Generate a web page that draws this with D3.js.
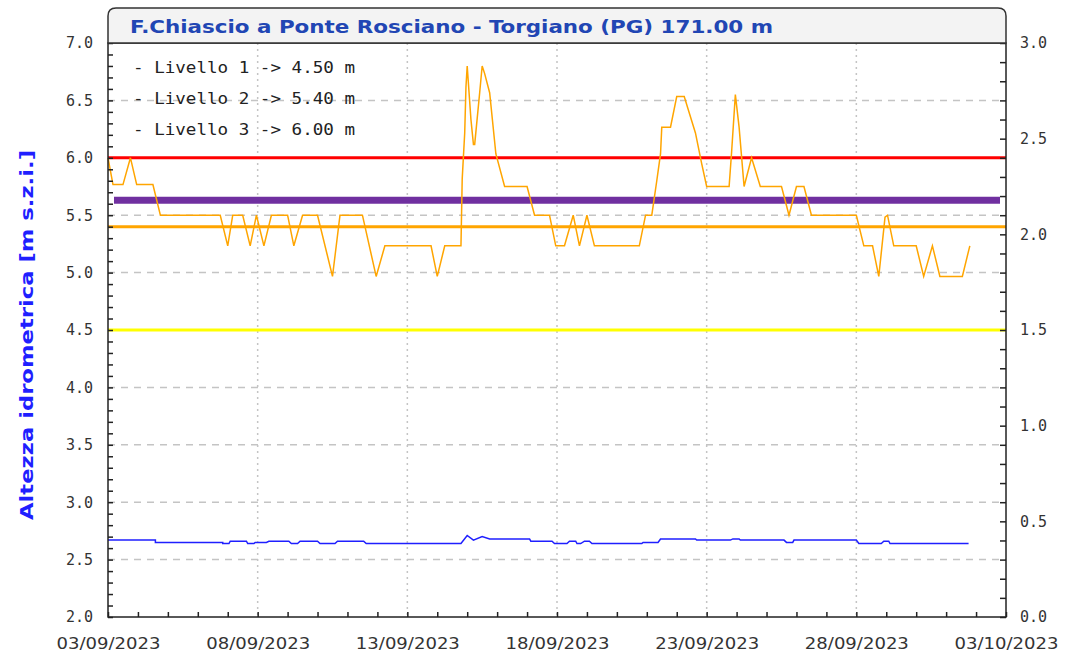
<!DOCTYPE html>
<html>
<head>
<meta charset="utf-8">
<script src="https://cdn.jsdelivr.net/npm/d3@7"></script>
<style>
  body { margin: 0; background: #fff; }
  svg { display: block; }
</style>
</head>
<body>
<svg id="chart" width="1066" height="657"></svg>
<script>
(function() {
  var title = "F.Chiascio a Ponte Rosciano - Torgiano (PG) 171.00 m";
  var yLabel = "Altezza idrometrica [m s.z.i.]";
  var startDate = new Date(2023, 8, 3);
  var endDate = new Date(2023, 9, 3);
  var dateTicks = [new Date(2023, 8, 3), new Date(2023, 8, 8), new Date(2023, 8, 13),
    new Date(2023, 8, 18), new Date(2023, 8, 23), new Date(2023, 8, 28), new Date(2023, 9, 3)];
  var leftTicks = [2.0, 2.5, 3.0, 3.5, 4.0, 4.5, 5.0, 5.5, 6.0, 6.5, 7.0];
  var rightTicks = [0.0, 0.5, 1.0, 1.5, 2.0, 2.5, 3.0];

  var levelNames = ["Livello 1", "Livello 2", "Livello 3"];
  var levelValues = [4.50, 5.40, 6.00];
  var refLevel = 5.63;

  // [ore dall'inizio, altezza m] - asse sinistro
  var blueReadings = [[0,2.67],[38,2.67],[38,2.65],[92,2.65],[92,2.64],[97,2.64],[98,2.66],[111,2.66],
    [112,2.64],[117,2.64],[118,2.65],[127,2.65],[129,2.66],[145,2.66],[147,2.64],[152,2.64],[154,2.66],
    [168,2.66],[170,2.64],[182,2.64],[184,2.66],[205,2.66],[207,2.64],[283,2.64],[288,2.71],[293,2.67],
    [300,2.70],[306,2.68],[338,2.68],[339,2.66],[356,2.66],[358,2.64],[368,2.64],[370,2.66],[375,2.66],
    [376,2.64],[379,2.64],[382,2.66],[386,2.66],[388,2.64],[428,2.64],[429,2.65],[441,2.65],[443,2.68],
    [471,2.68],[472,2.67],[499,2.67],[501,2.68],[506,2.68],[507,2.67],[542,2.67],[544,2.65],[549,2.65],
    [550,2.67],[600,2.67],[602,2.64],[620,2.64],[622,2.66],[626,2.66],[627,2.64],[690,2.64]];

  // [ore dall'inizio, valore] - asse destro
  var orangeReadings = [[0,2.40],[4,2.26],[12,2.26],[18,2.40],[23,2.26],[36,2.26],[42,2.10],[90,2.10],
    [96,1.94],[100,2.10],[108,2.10],[114,1.94],[119,2.10],[125,1.94],[131,2.10],[144,2.10],[149,1.94],
    [156,2.10],[168,2.10],[180,1.78],[186,2.10],[204,2.10],[215,1.78],[222,1.94],[259,1.94],[264,1.78],
    [270,1.94],[283,1.94],[284,2.29],[286,2.53],[287,2.77],[288,2.88],[291,2.60],[293,2.47],[294,2.47],
    [298,2.74],[300,2.88],[302,2.84],[306,2.74],[311,2.42],[318,2.25],[336,2.25],[342,2.10],[354,2.10],
    [359,1.94],[366,1.94],[373,2.10],[378,1.94],[384,2.10],[390,1.94],[426,1.94],[431,2.10],[436,2.10],
    [440,2.28],[443,2.42],[444,2.56],[451,2.56],[456,2.72],[462,2.72],[471,2.53],[476,2.37],[480,2.25],
    [498,2.25],[500,2.43],[503,2.73],[506,2.56],[510,2.25],[516,2.40],[523,2.25],[540,2.25],[546,2.10],
    [552,2.25],[558,2.25],[564,2.10],[600,2.10],[606,1.94],[613,1.94],[618,1.78],[623,2.09],[625,2.10],
    [630,1.94],[648,1.94],[654,1.78],[661,1.94],[667,1.78],[685,1.78],[691,1.94]];

  var left = 108, right = 1006, top = 43, bottom = 617;
  var levelColors = ["#ffff00", "#ffa500", "#ff0000"];
  var mono = "'DejaVu Sans Mono', monospace";
  var cond = "'DejaVu Sans Condensed', 'DejaVu Sans', sans-serif";

  var svg = d3.select("#chart");
  var x = d3.scaleTime().domain([startDate, endDate]).range([left, right]);
  var yL = d3.scaleLinear().domain([2, 7]).range([bottom, top]);
  var yR = d3.scaleLinear().domain([0, 3]).range([bottom, top]);
  var toDate = function(h) { return d3.timeHour.offset(startDate, h); };

  // griglia
  var grid = svg.append("g");
  grid.selectAll("line.h")
    .data(leftTicks.slice(1, -1))
    .enter().append("line")
    .attr("x1", left).attr("x2", right)
    .attr("y1", function(d) { return yL(d); })
    .attr("y2", function(d) { return yL(d); })
    .attr("stroke", "#c4c4c4").attr("stroke-width", 1.5)
    .attr("stroke-dasharray", "7,6");
  grid.selectAll("line.v")
    .data(dateTicks.slice(1, -1))
    .enter().append("line")
    .attr("y1", top).attr("y2", bottom)
    .attr("x1", function(d) { return x(d); })
    .attr("x2", function(d) { return x(d); })
    .attr("stroke", "#c4c4c4").attr("stroke-width", 1.5)
    .attr("stroke-dasharray", "2,4");

  // soglie
  var thr = svg.append("g");
  thr.selectAll("line")
    .data(levelValues)
    .enter().append("line")
    .attr("x1", left).attr("x2", right)
    .attr("y1", function(d) { return yL(d); })
    .attr("y2", function(d) { return yL(d); })
    .attr("stroke", function(d, i) { return levelColors[i]; })
    .attr("stroke-width", 3);
  thr.append("line")
    .attr("x1", left + 6).attr("x2", right - 6)
    .attr("y1", yL(refLevel)).attr("y2", yL(refLevel))
    .attr("stroke", "#7030a0").attr("stroke-width", 7);

  var lineL = d3.line()
    .x(function(d) { return x(toDate(d[0])); })
    .y(function(d) { return yL(d[1]); });
  var lineR = d3.line()
    .x(function(d) { return x(toDate(d[0])); })
    .y(function(d) { return yR(d[1]); });

  svg.append("path")
    .datum(orangeReadings)
    .attr("d", lineR)
    .attr("fill", "none").attr("stroke", "#ffa500").attr("stroke-width", 1.5);
  svg.append("path")
    .datum(blueReadings)
    .attr("d", lineL)
    .attr("fill", "none").attr("stroke", "#1f1fff").attr("stroke-width", 1.5);

  // assi
  var minorL = d3.axisLeft(yL).tickValues(d3.range(20, 71).map(function(d) { return d / 10; }))
    .tickSize(-5).tickFormat("");
  var minorR = d3.axisRight(yR).tickValues(d3.range(0, 31).map(function(d) { return d / 10; }))
    .tickSize(-6).tickFormat("");
  var minorX = d3.axisBottom(x).ticks(d3.timeDay.every(1)).tickSize(-5).tickFormat("");
  svg.append("g").attr("transform", "translate(" + left + ",0)").call(minorL);
  svg.append("g").attr("transform", "translate(" + right + ",0)").call(minorR);
  svg.append("g").attr("transform", "translate(0," + bottom + ")").call(minorX);
  svg.selectAll(".domain").remove();
  svg.selectAll(".tick line").attr("stroke", "#222").attr("stroke-width", 1.5);

  var labL = svg.append("g").attr("transform", "translate(" + left + ",0)")
    .call(d3.axisLeft(yL).tickValues(leftTicks).tickSize(0).tickPadding(15).tickFormat(d3.format(".1f")));
  var labR = svg.append("g").attr("transform", "translate(" + right + ",0)")
    .call(d3.axisRight(yR).tickValues(rightTicks).tickSize(0).tickPadding(14).tickFormat(d3.format(".1f")));
  var labX = svg.append("g").attr("transform", "translate(0," + bottom + ")")
    .call(d3.axisBottom(x).tickValues(dateTicks).tickSize(0).tickPadding(21).tickFormat(d3.timeFormat("%d/%m/%Y")));
  [labL, labR, labX].forEach(function(g) { g.select(".domain").remove(); });
  labL.selectAll("text").attr("font-family", mono).attr("font-size", 15).attr("fill", "#333");
  labR.selectAll("text").attr("font-family", mono).attr("font-size", 15).attr("fill", "#333");
  labX.selectAll("text").attr("font-family", cond).attr("font-size", 16).attr("fill", "#333")
    .attr("textLength", 104).attr("lengthAdjust", "spacingAndGlyphs");

  // cornice e titolo
  svg.append("rect")
    .attr("x", left).attr("y", top)
    .attr("width", right - left).attr("height", bottom - top)
    .attr("fill", "none").attr("stroke", "#222").attr("stroke-width", 1.5);
  svg.append("path")
    .attr("d", "M" + left + "," + top + "V16Q" + left + ",8 " + (left + 8) + ",8H" + (right - 8) +
      "Q" + right + ",8 " + right + ",16V" + top + "Z")
    .attr("fill", "#f3f3f3").attr("stroke", "#333").attr("stroke-width", 1.5);
  svg.append("text")
    .attr("x", 130).attr("y", 33)
    .attr("font-family", cond).attr("font-weight", "bold").attr("font-size", 18)
    .attr("fill", "#2146b4")
    .attr("textLength", 643).attr("lengthAdjust", "spacingAndGlyphs")
    .text(title);

  svg.append("text")
    .attr("transform", "translate(33,335) rotate(-90)")
    .attr("text-anchor", "middle")
    .attr("font-family", cond).attr("font-weight", "bold").attr("font-size", 17)
    .attr("fill", "#1f1fff")
    .attr("textLength", 370).attr("lengthAdjust", "spacingAndGlyphs")
    .text(yLabel);

  // legenda soglie
  svg.append("g").selectAll("text")
    .data(levelNames)
    .enter().append("text")
    .attr("x", 133)
    .attr("y", function(d, i) { return 73 + i * 31; })
    .attr("font-family", mono).attr("font-size", 15).attr("fill", "#222")
    .attr("textLength", 222).attr("lengthAdjust", "spacingAndGlyphs")
    .text(function(d, i) { return "- " + d + " -> " + levelValues[i].toFixed(2) + " m"; });
})()
</script>
</body>
</html>
